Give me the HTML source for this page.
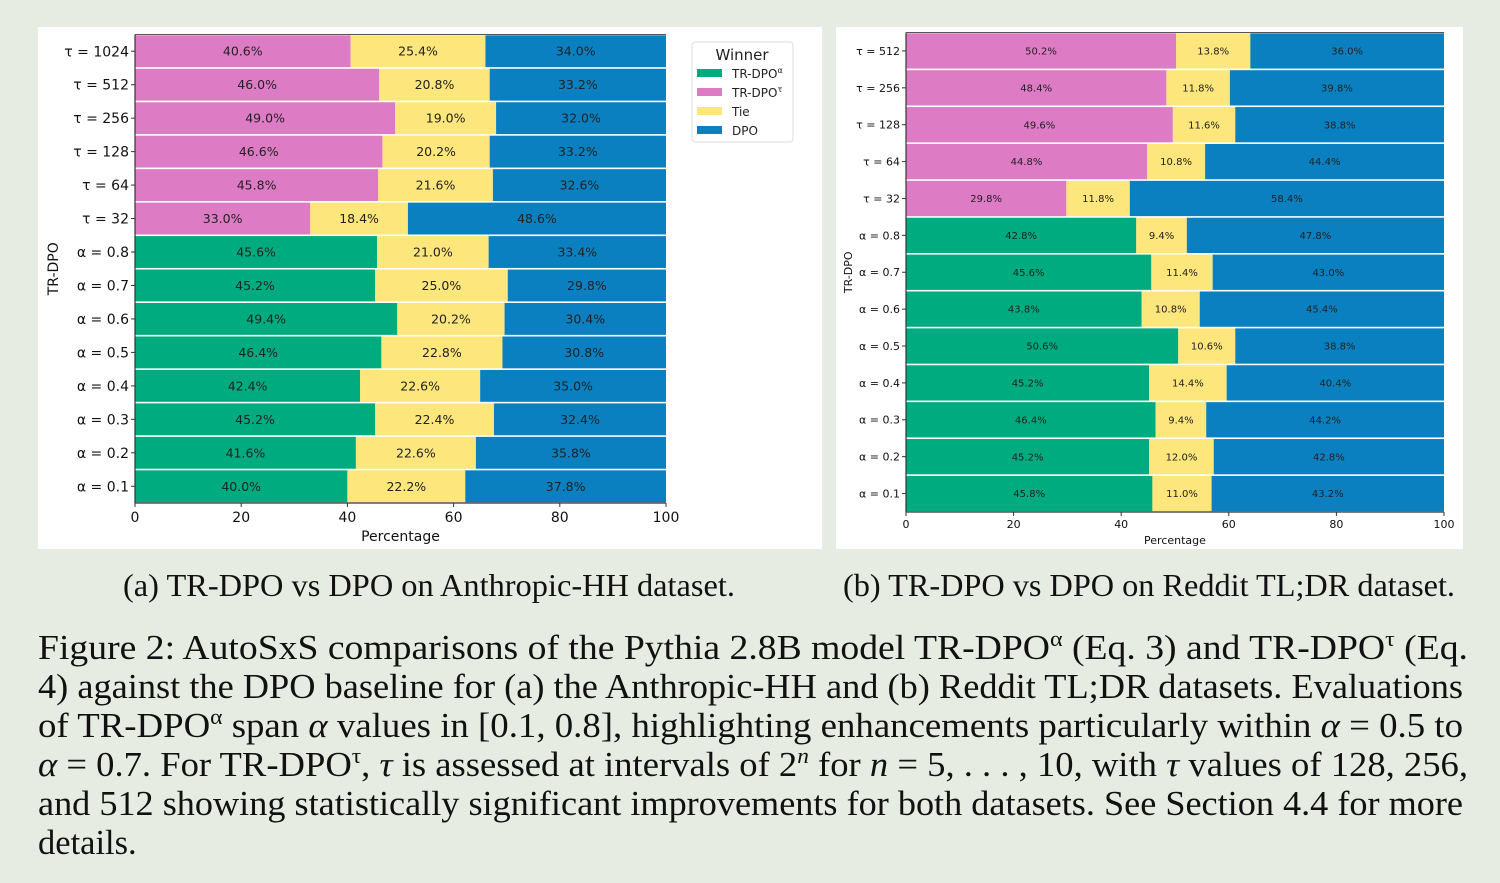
<!DOCTYPE html>
<html><head><meta charset="utf-8"><style>
body{margin:0;background:#e7ece3;width:1500px;height:883px;overflow:hidden}
svg{position:absolute;left:0;top:0}
text{font-family:"DejaVu Sans",sans-serif}
.cap{font-family:"Liberation Serif",serif;fill:#111}
</style></head><body>
<svg id="s" width="1500" height="883">
<rect x="38" y="27" width="784" height="522" fill="#fff"/>
<rect x="836" y="27" width="627" height="522" fill="#fff"/>
<g id="ga"></g>
<g id="gb"></g>
<g>
<rect x="692" y="42" width="101" height="100" rx="3" fill="#fff" stroke="#ddd"/>
<text x="742" y="60" font-size="15" text-anchor="middle" fill="#222">Winner</text>
<rect x="697" y="69" width="25" height="8" fill="#00ab7f"/><text x="732" y="78" font-size="12" fill="#222">TR-DPO<tspan font-size="8" dy="-5">α</tspan></text>
<rect x="697" y="88" width="25" height="8" fill="#de7bc5"/><text x="732" y="97" font-size="12" fill="#222">TR-DPO<tspan font-size="8" dy="-5">τ</tspan></text>
<rect x="697" y="107" width="25" height="8" fill="#fde67b"/><text x="732" y="116" font-size="12" fill="#222">Tie</text>
<rect x="697" y="126" width="25" height="8" fill="#0b80c0"/><text x="732" y="135" font-size="12" fill="#222">DPO</text>
</g>
<text class="cap" x="429" y="596" font-size="32" text-anchor="middle" textLength="612" lengthAdjust="spacingAndGlyphs">(a) TR-DPO vs DPO on Anthropic-HH dataset.</text>
<text class="cap" x="1149" y="596" font-size="32" text-anchor="middle" textLength="612" lengthAdjust="spacingAndGlyphs">(b) TR-DPO vs DPO on Reddit TL;DR dataset.</text>
<g font-size="34.5">
<text class="cap" x="38" y="659" textLength="1430" lengthAdjust="spacingAndGlyphs">Figure 2: AutoSxS comparisons of the Pythia 2.8B model TR-DPO<tspan font-size="22" dy="-13">α</tspan><tspan dy="13"> (Eq. 3) and TR-DPO</tspan><tspan font-size="22" dy="-13">τ</tspan><tspan dy="13"> (Eq.</tspan></text>
<text class="cap" x="38" y="698" textLength="1425" lengthAdjust="spacingAndGlyphs">4) against the DPO baseline for (a) the Anthropic-HH and (b) Reddit TL;DR datasets. Evaluations</text>
<text class="cap" x="38" y="737" textLength="1425" lengthAdjust="spacingAndGlyphs">of TR-DPO<tspan font-size="22" dy="-13">α</tspan><tspan dy="13"> span </tspan><tspan font-style="italic">α</tspan> values in [0.1, 0.8], highlighting enhancements particularly within <tspan font-style="italic">α</tspan> = 0.5 to</text>
<text class="cap" x="38" y="776" textLength="1430" lengthAdjust="spacingAndGlyphs"><tspan font-style="italic">α</tspan> = 0.7. For TR-DPO<tspan font-size="22" dy="-13">τ</tspan><tspan dy="13">, </tspan><tspan font-style="italic">τ</tspan> is assessed at intervals of 2<tspan font-size="22" dy="-13" font-style="italic">n</tspan><tspan dy="13"> for </tspan><tspan font-style="italic">n</tspan> = 5, . . . , 10, with <tspan font-style="italic">τ</tspan> values of 128, 256,</text>
<text class="cap" x="38" y="815" textLength="1425" lengthAdjust="spacingAndGlyphs">and 512 showing statistically significant improvements for both datasets. See Section 4.4 for more</text>
<text class="cap" x="38" y="854">details.</text>
</g>
</svg>
<script>
const labelsA=["τ = 1024","τ = 512","τ = 256","τ = 128","τ = 64","τ = 32","α = 0.8","α = 0.7","α = 0.6","α = 0.5","α = 0.4","α = 0.3","α = 0.2","α = 0.1"];
const winA=[40.6,46.0,49.0,46.6,45.8,33.0,45.6,45.2,49.4,46.4,42.4,45.2,41.6,40.0];
const tieA=[25.4,20.8,19.0,20.2,21.6,18.4,21.0,25.0,20.2,22.8,22.6,22.4,22.6,22.2];
const dpoA=[34.0,33.2,32.0,33.2,32.6,48.6,33.4,29.8,30.4,30.8,35.0,32.4,35.8,37.8];
const labelsB=["τ = 512","τ = 256","τ = 128","τ = 64","τ = 32","α = 0.8","α = 0.7","α = 0.6","α = 0.5","α = 0.4","α = 0.3","α = 0.2","α = 0.1"];
const winB=[50.2,48.4,49.6,44.8,29.8,42.8,45.6,43.8,50.6,45.2,46.4,45.2,45.8];
const tieB=[13.8,11.8,11.6,10.8,11.8,9.4,11.4,10.8,10.6,14.4,9.4,12.0,11.0];
const dpoB=[36.0,39.8,38.8,44.4,58.4,47.8,43.0,45.4,38.8,40.4,44.2,42.8,43.2];
const ticks=[0,20,40,60,80,100];
const NS="http://www.w3.org/2000/svg";
function mk(g,t,a,txt){const e=document.createElementNS(NS,t);for(const k in a)e.setAttribute(k,a[k]);if(txt!=null)e.textContent=txt;g.appendChild(e);return e;}
function draw(id,labels,win,tie,dpo,c){
 const g=document.getElementById(id);
 const n=labels.length, pitch=(c.bot-c.top)/n;
 const X=v=>c.x0+(c.x1-c.x0)*v/100;
 for(let i=0;i<n;i++){
  const y=c.top+i*pitch+0.8, h=pitch-1.6, cy=c.top+(i+0.5)*pitch;
  const isTau=labels[i][0]==="τ";
  const segs=[[win[i],isTau?"#de7bc5":"#00ab7f"],[tie[i],"#fde67b"],[dpo[i],"#0b80c0"]];
  let acc=0;
  segs.forEach((s,j)=>{
   const r=mk(g,"rect",{x:X(acc),y:y,width:X(acc+s[0])-X(acc),height:h,fill:s[1]});
   
   
   const t=mk(g,"text",{x:(X(acc)+X(acc+s[0]))/2,y:cy+c.fs*0.36,"font-size":c.fs,"text-anchor":"middle",fill:"#222"},s[0].toFixed(1)+"%");
   
   
   acc+=s[0];
  });
  const l=mk(g,"text",{x:c.x0-6,y:cy+c.lfs*0.36,"font-size":c.lfs,"text-anchor":"end",fill:"#111"},labels[i]);
  
  
  mk(g,"line",{x1:c.x0-4,x2:c.x0,y1:cy,y2:cy,stroke:"#333"});
 }
 mk(g,"line",{x1:c.x0,x2:c.x0,y1:c.top,y2:c.bot,stroke:"#333","stroke-width":1.2});
 mk(g,"line",{x1:c.x0,x2:c.x1,y1:c.bot,y2:c.bot,stroke:"#333","stroke-width":1.2});
 mk(g,"line",{x1:c.x0,x2:c.x1,y1:c.top,y2:c.top,stroke:"#555","stroke-width":1});
 ticks.forEach(v=>{
  mk(g,"line",{x1:X(v),x2:X(v),y1:c.bot,y2:c.bot+4,stroke:"#333"});
  const t=mk(g,"text",{x:X(v),y:c.bot+c.tfs+5,"font-size":c.tfs,"text-anchor":"middle",fill:"#111"},String(v));
  
  
 });
 const xt=mk(g,"text",{x:(c.x0+c.x1)/2,y:c.bot+c.tfs*2+10,"font-size":c.tfs,"text-anchor":"middle",fill:"#111"},"Percentage");
 
 
 const yt=mk(g,"text",{x:0,y:0,"font-size":c.tfs,"text-anchor":"middle",fill:"#111",transform:`translate(${c.yx},${(c.top+c.bot)/2}) rotate(-90)`},"TR-DPO");
 
 
}
draw("ga",labelsA,winA,tieA,dpoA,{x0:135,x1:666,top:34.5,bot:503,fs:12.5,lfs:14,tfs:14,yx:58});
draw("gb",labelsB,winB,tieB,dpoB,{x0:906,x1:1444,top:32.5,bot:512,fs:10,lfs:11,tfs:11,yx:852});
</script>
</body></html>
